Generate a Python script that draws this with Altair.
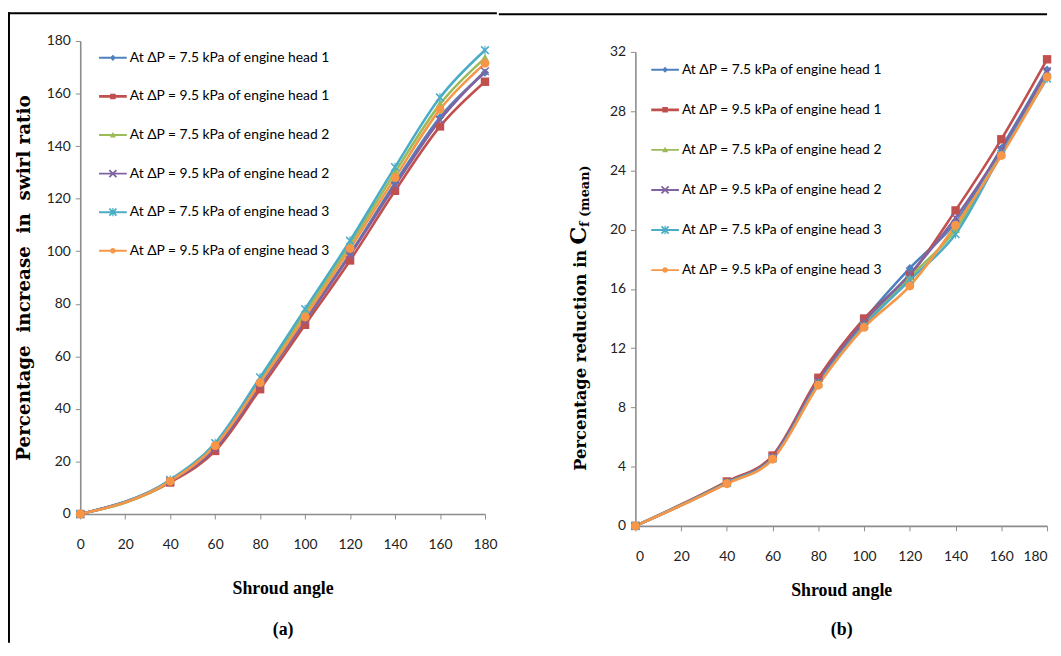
import altair as alt
import pandas as pd

angles = [0, 40, 60, 80, 100, 120, 140, 160, 180]
labels = [
    "At ΔP = 7.5 kPa of engine head 1",
    "At ΔP = 9.5 kPa of engine head 1",
    "At ΔP = 7.5 kPa of engine head 2",
    "At ΔP = 9.5 kPa of engine head 2",
    "At ΔP = 7.5 kPa of engine head 3",
    "At ΔP = 9.5 kPa of engine head 3",
]
colors = ["#4F81BD", "#C0504D", "#9BBB59", "#8064A2", "#4BACC6", "#F79646"]

# (a) percentage increase in swirl ratio
swirl_h1_75 = [0, 12.5, 25.5, 49.5, 74, 99, 126, 151, 168]
swirl_h1_95 = [0, 12, 24, 47.5, 72, 96.5, 123, 147.5, 164.5]
swirl_h2_75 = [0, 12.5, 26.5, 51, 76.5, 102.5, 130, 156, 173.5]
swirl_h2_95 = [0, 12.5, 25, 49, 73.5, 98.5, 125, 150, 168.5]
swirl_h3_75 = [0, 13, 27, 52, 78, 104, 132, 158.5, 176.5]
swirl_h3_95 = [0, 12.5, 26, 50, 75, 101, 128, 154, 171.5]

# (b) percentage reduction in Cf(mean)
cf_h1_75 = [0, 2.95, 4.7, 9.8, 13.9, 17.4, 20.5, 25.5, 30.8]
cf_h1_95 = [0, 3.0, 4.75, 10.0, 14.0, 16.9, 21.3, 26.1, 31.5]
cf_h2_75 = [0, 2.9, 4.6, 9.6, 13.6, 16.8, 20.0, 25.2, 30.5]
cf_h2_95 = [0, 2.9, 4.65, 9.8, 13.8, 17.0, 20.8, 25.4, 30.7]
cf_h3_75 = [0, 2.9, 4.55, 9.6, 13.5, 16.6, 19.7, 25.1, 30.2]
cf_h3_95 = [0, 2.85, 4.5, 9.5, 13.4, 16.2, 20.3, 25.0, 30.3]

# marker shapes in unit coordinates
X_PATH = "M-1,-0.75L-0.75,-1L1,0.75L0.75,1Z M-1,0.75L0.75,-1L1,-0.75L-0.75,1Z"
marker_paths = [
    "M0,-1L1,0L0,1L-1,0Z",
    "M-1,-1H1V1H-1Z",
    "M0,-1L1,0.8H-1Z",
    X_PATH,
    X_PATH + " M-0.12,-1H0.12V1H-0.12Z",
    "M1,0A1,1 0 1,1 -1,0A1,1 0 1,1 1,0Z",
]
marker_sizes = [70, 81, 70, 110, 170, 85]

BAR = "M-1,-0.07H1V0.07H-1Z "
BAR_RED = "M-1,-0.1H1V0.1H-1Z "
LX = "M-0.3,-0.21L-0.21,-0.3L0.3,0.21L0.21,0.3Z M-0.3,0.21L0.21,-0.3L0.3,-0.21L-0.21,0.3Z"
legend_paths = [
    BAR + "M0,-0.22L0.22,0L0,0.22L-0.22,0Z",
    BAR_RED + "M-0.2,-0.2H0.2V0.2H-0.2Z",
    BAR + "M0,-0.22L0.22,0.18H-0.22Z",
    BAR + LX,
    BAR + LX + " M-0.045,-0.3H0.045V0.3H-0.045Z",
    BAR + "M0.2,0A0.2,0.2 0 1,1 -0.2,0A0.2,0.2 0 1,1 0.2,0Z",
]


def long_df(series):
    rows = []
    for lab, vals in zip(labels, series):
        for a, v in zip(angles, vals):
            rows.append({"angle": a, "value": v, "s": lab, "lg": lab})
    return pd.DataFrame(rows)


df_a = long_df([swirl_h1_75, swirl_h1_95, swirl_h2_75, swirl_h2_95, swirl_h3_75, swirl_h3_95])
df_b = long_df([cf_h1_75, cf_h1_95, cf_h2_75, cf_h2_95, cf_h3_75, cf_h3_95])

TICK_FONT = "Lato"
TITLE_FONT = "DejaVu Serif"
XT_FONT = "Liberation Serif"
one = pd.DataFrame({"k": [0]})


def panel(df, ymax, ystep, ytitle, xtitle, legx, legy, rowpad, xtp, xlh, flush):
    x = alt.X(
        "angle:Q",
        scale=alt.Scale(domain=[0, 180], nice=False),
        axis=alt.Axis(
            values=list(range(0, 181, 20)),
            title=xtitle,
            titleFont=XT_FONT,
            titleFontSize=18,
            titleFontWeight="bold",
            titlePadding=xtp,
            titleLineHeight=xlh,
            labelPadding=19,
            labelFlush=flush,
        ),
    )
    y = alt.Y(
        "value:Q",
        scale=alt.Scale(domain=[0, ymax], nice=False),
        axis=alt.Axis(
            values=list(range(0, ymax + 1, ystep)),
            title=ytitle,
            titleFont=TITLE_FONT,
            titleFontSize=18.5,
            titleFontWeight="bold",
            titlePadding=13,
            labelPadding=5,
        ),
    )
    cscale = alt.Scale(domain=labels, range=colors)
    base = alt.Chart(df)
    lines = base.mark_line(strokeWidth=2.6, interpolate="monotone").encode(
        x=x, y=y, color=alt.Color("s:N", scale=cscale, legend=None)
    )
    pts = base.mark_point(filled=True, opacity=1).encode(
        x="angle:Q",
        y="value:Q",
        color=alt.Color("s:N", scale=cscale, legend=None),
        shape=alt.Shape("s:N", scale=alt.Scale(domain=labels, range=marker_paths), legend=None),
        size=alt.Size("s:N", scale=alt.Scale(domain=labels, range=marker_sizes), legend=None),
    )
    leg = alt.Legend(
        title=None,
        orient="none",
        legendX=legx,
        legendY=legy,
        labelFont="Lato",
        labelFontSize=14,
        labelColor="black",
        labelLimit=400,
        labelOffset=3,
        symbolSize=784,
        symbolStrokeWidth=0,
        symbolOpacity=1,
        rowPadding=rowpad,
        padding=0,
    )
    legend_layer = base.mark_point(filled=True, opacity=0).encode(
        x="angle:Q",
        y="value:Q",
        color=alt.Color("lg:N", scale=alt.Scale(domain=labels, range=colors), legend=leg),
        shape=alt.Shape("lg:N", scale=alt.Scale(domain=labels, range=legend_paths), legend=leg),
    )
    return lines, pts, legend_layer


NB = "\u00a0"
la, pa, ga = panel(df_a, 180, 20,
                   f"Percentage{NB} increase{NB} in{NB} swirl ratio",
                   ["Shroud angle", "(a)"], 19, 3, 18, 28, 42, False)

# figure frame (top and left edges) drawn as thin black bands
frame_top_a = alt.Chart(one).mark_rect(color="black").encode(
    x=alt.value(-73), x2=alt.value(421), y=alt.value(-29), y2=alt.value(-27)
)
frame_left = alt.Chart(one).mark_rect(color="black").encode(
    x=alt.value(-73), x2=alt.value(-71), y=alt.value(-29), y2=alt.value(608)
)

chart_a = alt.layer(la, pa, ga, frame_top_a, frame_left).resolve_scale(
    color="independent", shape="independent", size="independent"
).properties(width=409, height=478)

lb, pb, gb = panel(df_b, 32, 4, None, ["Shroud angle", "(b)"], 16, 4, 19.5, 18, 40, True)

t1 = alt.Chart(pd.DataFrame({"t": ["Percentage reduction in"]})).mark_text(
    angle=270, align="right", baseline="middle", font=TITLE_FONT, fontSize=16.5,
    fontWeight="bold", color="black"
).encode(text="t:N", x=alt.value(-55), y=alt.value(200))
t2 = alt.Chart(pd.DataFrame({"t": ["C"]})).mark_text(
    angle=270, align="left", baseline="middle", font=TITLE_FONT, fontSize=23,
    fontWeight="bold", color="black"
).encode(text="t:N", x=alt.value(-57), y=alt.value(195))
t3 = alt.Chart(pd.DataFrame({"t": ["f (mean)"]})).mark_text(
    angle=270, align="left", baseline="middle", font=TITLE_FONT, fontSize=13,
    fontWeight="bold", color="black"
).encode(text="t:N", x=alt.value(-51), y=alt.value(177))

chart_b = alt.layer(lb, pb, gb, t1, t2, t3).resolve_scale(
    color="independent", shape="independent", size="independent"
).properties(width=416, height=479)

# thin strip above panel (b): carries the rest of the frame's top edge
strip = alt.Chart(one).mark_rule(color="black", strokeWidth=2).encode(
    x=alt.value(-138), x2=alt.value(416), y=alt.value(-27)
).properties(width=416, height=1)

right_col = alt.vconcat(strip, chart_b, spacing=3)

chart = alt.hconcat(chart_a, right_col, spacing=0).properties(
    padding={"left": 0, "top": 1, "right": 0, "bottom": 0}
).configure_view(stroke=None).configure_axis(
    grid=False,
    domainColor="#8c8c8c",
    domainWidth=1.6,
    tickColor="#8c8c8c",
    tickWidth=1,
    tickSize=5,
    labelFont=TICK_FONT,
    labelFontSize=14,
    labelColor="#222222",
    titleColor="black",
)

chart.save("out.html", embed_options={"renderer": "svg", "actions": False})
